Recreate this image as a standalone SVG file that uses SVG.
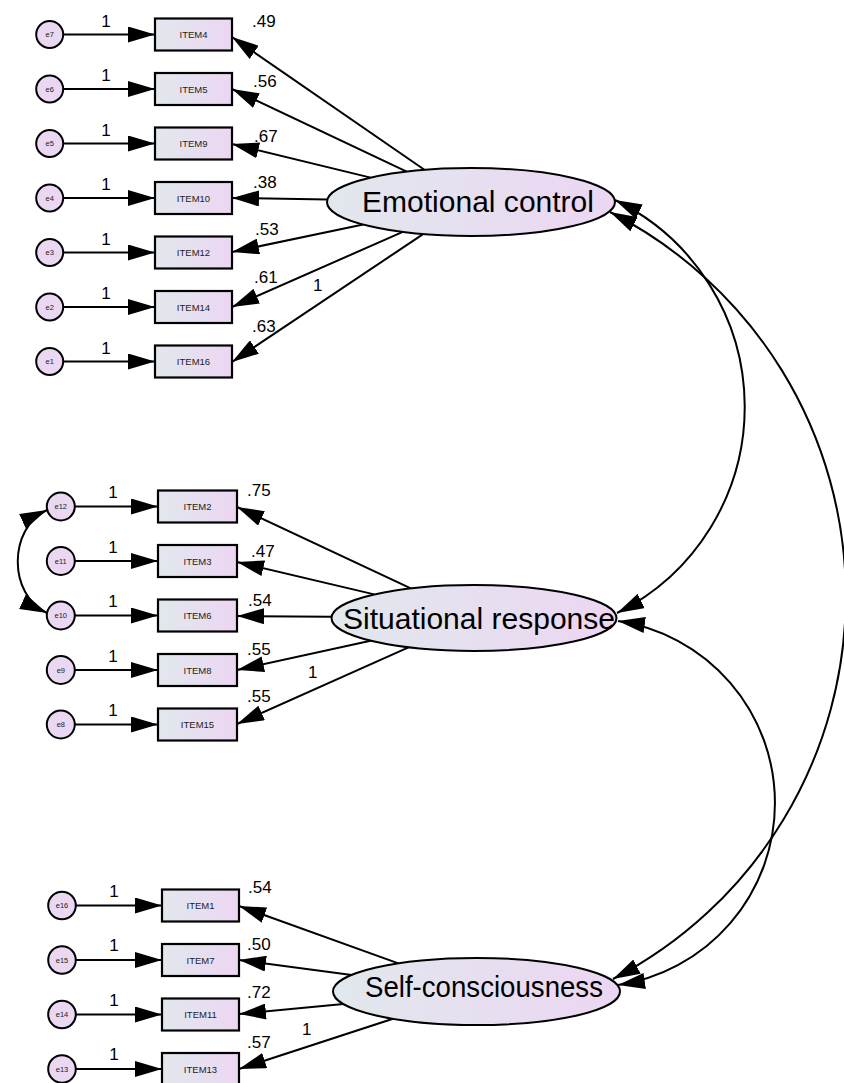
<svg xmlns="http://www.w3.org/2000/svg" width="844" height="1083" viewBox="0 0 844 1083">
<defs>
<linearGradient id="g" x1="0" y1="0" x2="1" y2="0"><stop offset="0" stop-color="#e1e8ec"/><stop offset="1" stop-color="#ecd6f3"/></linearGradient>
<marker id="ah" viewBox="0 0 27 16" refX="27" refY="8" markerWidth="27" markerHeight="16" markerUnits="userSpaceOnUse" orient="auto"><path d="M0,0 L27,8 L0,16 Z" fill="#000"/></marker>
<marker id="ahs" viewBox="0 0 27 16" refX="27" refY="8" markerWidth="27" markerHeight="16" markerUnits="userSpaceOnUse" orient="auto-start-reverse"><path d="M0,0 L27,8 L0,16 Z" fill="#000"/></marker>
</defs>
<style>
.box{fill:url(#g);stroke:#000;stroke-width:2.2}
.lat{fill:url(#g);stroke:#000;stroke-width:2}
.err{fill:#ead8f2;stroke:#000;stroke-width:2}
.p{stroke:#000;stroke-width:2;fill:none;marker-end:url(#ah)}
.cov{stroke:#000;stroke-width:2;fill:none;marker-start:url(#ahs);marker-end:url(#ahs)}
text{font-family:"Liberation Sans",Arial,sans-serif;fill:#000}
.it{font-size:9.5px;fill:#222;text-anchor:middle}
.el{font-size:7.5px;fill:#222;text-anchor:middle}
.num{font-size:17px}
.one{font-size:17px;text-anchor:middle}
.lt{font-size:29px;text-anchor:middle}
</style>
<rect width="844" height="1083" fill="#fff"/>

<g id="connectors">
<!-- error to item -->
<path class="p" d="M63.4,34.5 L155,34.5"/>
<path class="p" d="M63.4,89 L155,89"/>
<path class="p" d="M63.4,143.5 L155,143.5"/>
<path class="p" d="M63.4,198 L155,198"/>
<path class="p" d="M63.4,252.5 L155,252.5"/>
<path class="p" d="M63.4,307 L155,307"/>
<path class="p" d="M63.4,361.5 L155,361.5"/>
<path class="p" d="M74.8,506.5 L158,506.5"/>
<path class="p" d="M74.8,561 L158,561"/>
<path class="p" d="M74.8,615.5 L158,615.5"/>
<path class="p" d="M74.8,670 L158,670"/>
<path class="p" d="M74.8,724.5 L158,724.5"/>
<path class="p" d="M75.8,905.5 L162,905.5"/>
<path class="p" d="M75.8,960 L162,960"/>
<path class="p" d="M75.8,1014.5 L162,1014.5"/>
<path class="p" d="M75.8,1069 L162,1069"/>
<!-- latent to item -->
<path class="p" d="M424.4,169.8 L232,37"/>
<path class="p" d="M406.7,171.6 L232,89"/>
<path class="p" d="M370.6,177.6 L232,144"/>
<path class="p" d="M327.4,199.6 L232,198"/>
<path class="p" d="M363.2,224.5 L232,252"/>
<path class="p" d="M402.8,231.9 L232,307"/>
<path class="p" d="M423.1,234.1 L232,362"/>
<path class="p" d="M410.8,588.4 L237,507"/>
<path class="p" d="M374.2,594.4 L237,562"/>
<path class="p" d="M331.6,616.8 L237,616"/>
<path class="p" d="M370.6,640.7 L237,670"/>
<path class="p" d="M408.5,647.3 L237,724"/>
<path class="p" d="M398.4,963.4 L239,906"/>
<path class="p" d="M351.7,975 L239,960"/>
<path class="p" d="M343.5,1004.1 L239,1014"/>
<path class="p" d="M393,1018.7 L239,1069"/>
<!-- covariances -->
<path class="cov" d="M615,200 A230,230 0 0 1 617,613"/>
<path class="cov" d="M610,212 A431,431 0 0 1 613,979"/>
<path class="cov" d="M618,621 A184,184 0 0 1 618,985"/>
<path class="cov" d="M47,510 C8,528 8,595 47,613"/>
<!-- labels -->
<text class="num" x="252" y="27">.49</text>
<text class="num" x="253" y="87">.56</text>
<text class="num" x="254" y="142">.67</text>
<text class="num" x="253" y="188">.38</text>
<text class="num" x="255" y="235">.53</text>
<text class="num" x="254" y="283">.61</text>
<text class="num" x="252" y="332">.63</text>
<text class="num" x="313" y="291">1</text>
<text class="num" x="247" y="496">.75</text>
<text class="num" x="251" y="557">.47</text>
<text class="num" x="248" y="606">.54</text>
<text class="num" x="247" y="655">.55</text>
<text class="num" x="308" y="678">1</text>
<text class="num" x="247" y="702">.55</text>
<text class="num" x="248" y="893">.54</text>
<text class="num" x="247" y="950">.50</text>
<text class="num" x="247" y="998">.72</text>
<text class="num" x="302" y="1035">1</text>
<text class="num" x="247" y="1048">.57</text>
<text class="one" x="106" y="26.5">1</text>
<text class="one" x="106" y="81">1</text>
<text class="one" x="106" y="135.5">1</text>
<text class="one" x="106" y="190">1</text>
<text class="one" x="106" y="244.5">1</text>
<text class="one" x="106" y="299">1</text>
<text class="one" x="106" y="353.5">1</text>
<text class="one" x="113" y="498">1</text>
<text class="one" x="113" y="552.5">1</text>
<text class="one" x="113" y="607">1</text>
<text class="one" x="113" y="661.5">1</text>
<text class="one" x="113" y="716">1</text>
<text class="one" x="114" y="896.5">1</text>
<text class="one" x="114" y="951">1</text>
<text class="one" x="114" y="1005.5">1</text>
<text class="one" x="114" y="1060">1</text>
</g>

<g id="emotional-control"><ellipse class="lat" cx="471" cy="202" rx="144" ry="34"/><text class="lt" x="478" y="211.5" textLength="232" lengthAdjust="spacingAndGlyphs">Emotional control</text></g>
<g id="situational-response"><ellipse class="lat" cx="474" cy="618" rx="142.5" ry="33"/><text class="lt" x="479" y="629" textLength="272" lengthAdjust="spacingAndGlyphs">Situational response</text></g>
<g id="self-consciousness"><ellipse class="lat" cx="476.5" cy="991.5" rx="143.5" ry="33.5"/><text class="lt" x="484" y="996.5" textLength="238" lengthAdjust="spacingAndGlyphs">Self-consciousness</text></g>

<g id="ITEM4"><rect class="box" x="155" y="18.5" width="77" height="32"/><text class="it" x="193.5" y="38">ITEM4</text></g>
<g id="ITEM5"><rect class="box" x="155" y="73" width="77" height="32"/><text class="it" x="193.5" y="92.5">ITEM5</text></g>
<g id="ITEM9"><rect class="box" x="155" y="127.5" width="77" height="32"/><text class="it" x="193.5" y="147">ITEM9</text></g>
<g id="ITEM10"><rect class="box" x="155" y="182" width="77" height="32"/><text class="it" x="193.5" y="201.5">ITEM10</text></g>
<g id="ITEM12"><rect class="box" x="155" y="236.5" width="77" height="32"/><text class="it" x="193.5" y="256">ITEM12</text></g>
<g id="ITEM14"><rect class="box" x="155" y="291" width="77" height="32"/><text class="it" x="193.5" y="310.5">ITEM14</text></g>
<g id="ITEM16"><rect class="box" x="155" y="345.5" width="77" height="32"/><text class="it" x="193.5" y="365">ITEM16</text></g>

<g id="ITEM2"><rect class="box" x="158" y="490.5" width="79" height="32"/><text class="it" x="197.5" y="510">ITEM2</text></g>
<g id="ITEM3"><rect class="box" x="158" y="545" width="79" height="32"/><text class="it" x="197.5" y="564.5">ITEM3</text></g>
<g id="ITEM6"><rect class="box" x="158" y="599.5" width="79" height="32"/><text class="it" x="197.5" y="619">ITEM6</text></g>
<g id="ITEM8"><rect class="box" x="158" y="654" width="79" height="32"/><text class="it" x="197.5" y="673.5">ITEM8</text></g>
<g id="ITEM15"><rect class="box" x="158" y="708.5" width="79" height="32"/><text class="it" x="197.5" y="728">ITEM15</text></g>

<g id="ITEM1"><rect class="box" x="162" y="889.5" width="77" height="32"/><text class="it" x="200.5" y="909">ITEM1</text></g>
<g id="ITEM7"><rect class="box" x="162" y="944" width="77" height="32"/><text class="it" x="200.5" y="963.5">ITEM7</text></g>
<g id="ITEM11"><rect class="box" x="162" y="998.5" width="77" height="32"/><text class="it" x="200.5" y="1018">ITEM11</text></g>
<g id="ITEM13"><rect class="box" x="162" y="1053" width="77" height="32"/><text class="it" x="200.5" y="1072.5">ITEM13</text></g>

<g id="e7"><circle class="err" cx="49.7" cy="34.5" r="13.5"/><text class="el" x="49.7" y="37">e7</text></g>
<g id="e6"><circle class="err" cx="49.7" cy="89" r="13.5"/><text class="el" x="49.7" y="91.5">e6</text></g>
<g id="e5"><circle class="err" cx="49.7" cy="143.5" r="13.5"/><text class="el" x="49.7" y="146">e5</text></g>
<g id="e4"><circle class="err" cx="49.7" cy="198" r="13.5"/><text class="el" x="49.7" y="200.5">e4</text></g>
<g id="e3"><circle class="err" cx="49.7" cy="252.5" r="13.5"/><text class="el" x="49.7" y="255">e3</text></g>
<g id="e2"><circle class="err" cx="49.7" cy="307" r="13.5"/><text class="el" x="49.7" y="309.5">e2</text></g>
<g id="e1"><circle class="err" cx="49.7" cy="361.5" r="13.5"/><text class="el" x="49.7" y="364">e1</text></g>

<g id="e12"><circle class="err" cx="60.8" cy="506.5" r="14"/><text class="el" x="60.8" y="509">e12</text></g>
<g id="e11"><circle class="err" cx="60.8" cy="561" r="14"/><text class="el" x="60.8" y="563.5">e11</text></g>
<g id="e10"><circle class="err" cx="60.8" cy="615.5" r="14"/><text class="el" x="60.8" y="618">e10</text></g>
<g id="e9"><circle class="err" cx="60.8" cy="670" r="14"/><text class="el" x="60.8" y="672.5">e9</text></g>
<g id="e8"><circle class="err" cx="60.8" cy="724.5" r="14"/><text class="el" x="60.8" y="727">e8</text></g>

<g id="e16"><circle class="err" cx="62" cy="905.5" r="13.8"/><text class="el" x="62" y="908">e16</text></g>
<g id="e15"><circle class="err" cx="62" cy="960" r="13.8"/><text class="el" x="62" y="962.5">e15</text></g>
<g id="e14"><circle class="err" cx="62" cy="1014.5" r="13.8"/><text class="el" x="62" y="1017">e14</text></g>
<g id="e13"><circle class="err" cx="62" cy="1069" r="13.8"/><text class="el" x="62" y="1071.5">e13</text></g>
</svg>
